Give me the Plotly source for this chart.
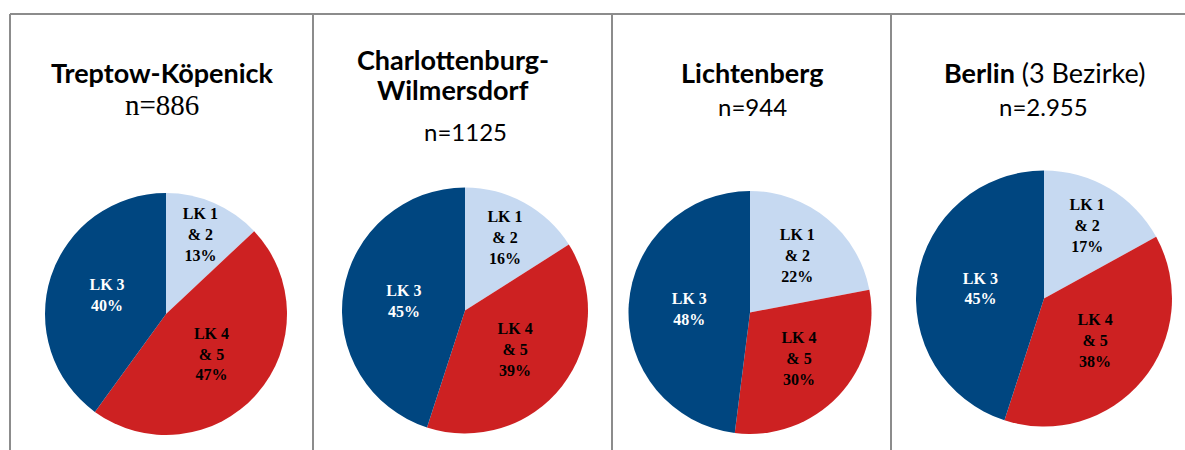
import plotly.graph_objects as go

W, H = 1185, 450

categories = ["LK 1 & 2", "LK 4 & 5", "LK 3"]
label_lines = ["LK 1<br>& 2", "LK 4<br>& 5", "LK 3"]
districts = ["Treptow-Köpenick", "Charlottenburg-Wilmersdorf", "Lichtenberg", "Berlin (3 Bezirke)"]
n_labels = ["n=886", "n=1125", "n=944", "n=2.955"]
values_treptow = [13, 47, 40]
values_charlottenburg = [16, 39, 45]
values_lichtenberg = [22, 30, 48]
values_berlin = [17, 38, 45]
colors = ["#C6D9F1", "#CD2122", "#004680"]
text_colors = ["#000000", "#000000", "#FFFFFF"]

all_values = [values_treptow, values_charlottenburg, values_lichtenberg, values_berlin]

# pie placement in pixels (left, right, top, bottom)
pie_boxes = [(45, 287, 193, 435), (342, 588, 187, 434), (628, 872, 191, 434), (916, 1172, 170, 427)]

fig = go.Figure()
for vals, (l, r, t, b) in zip(all_values, pie_boxes):
    fig.add_trace(go.Pie(
        labels=categories,
        values=vals,
        text=label_lines,
        texttemplate="%{text}<br>%{value}%",
        textposition="inside",
        insidetextorientation="horizontal",
        sort=False,
        direction="clockwise",
        rotation=0,
        marker=dict(colors=colors, line=dict(width=0)),
        insidetextfont=dict(family="Liberation Serif", size=16, color=text_colors, weight="bold"),
        showlegend=False,
        hoverinfo="label+percent",
        domain=dict(x=[l / W, r / W], y=[1 - b / H, 1 - t / H]),
    ))

line_col = "#8C8C8C"
shapes = [dict(type="line", xref="paper", yref="paper", x0=10 / W, x1=1, y0=1 - 14 / H, y1=1 - 14 / H,
               line=dict(color=line_col, width=2))]
for xv in [10, 313, 612, 891]:
    shapes.append(dict(type="line", xref="paper", yref="paper", x0=xv / W, x1=xv / W, y0=0, y1=1 - 14 / H,
                       line=dict(color=line_col, width=2)))

title_font = dict(family="Lato", size=27, color="#000000")
reg_font = dict(family="Lato", size=24, color="#000000")
ann = []
def add(text, x, y, font):
    ann.append(dict(text=text, x=x / W, y=1 - y / H, xref="paper", yref="paper",
                    xanchor="center", yanchor="middle", showarrow=False, font=font))

add("<b>Treptow-Köpenick</b>", 162, 72, title_font)
add(n_labels[0], 162, 105, dict(family="Liberation Serif", size=29, color="#000000"))
add("<b>Charlottenburg-</b>", 453, 60, title_font)
add("<b>Wilmersdorf</b>", 453, 90, title_font)
add(n_labels[1], 465, 131, reg_font)
add("<b>Lichtenberg</b>", 752, 72, title_font)
add(n_labels[2], 752, 107, reg_font)
add("<b>Berlin</b> (3 Bezirke)", 1044, 72, title_font)
add(n_labels[3], 1043, 107, reg_font)

fig.update_layout(width=W, height=H, margin=dict(l=0, r=0, t=0, b=0),
                  paper_bgcolor="white", plot_bgcolor="white",
                  uniformtext=dict(minsize=16, mode="show"),
                  shapes=shapes, annotations=ann)
fig.write_html("out.html", config={"displayModeBar": False},
               post_script="document.body.style.margin='0px';")
